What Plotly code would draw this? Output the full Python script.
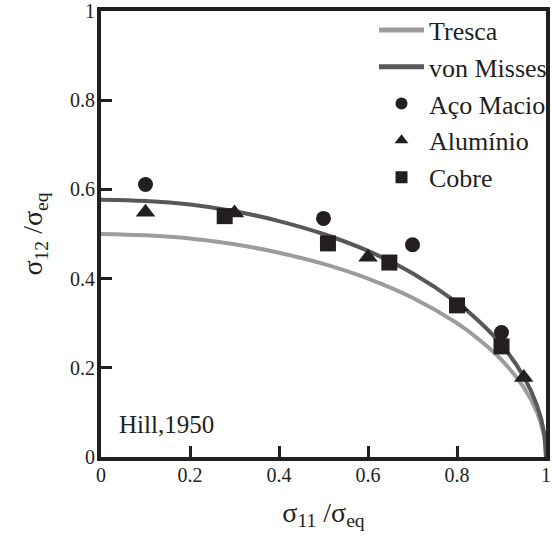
import plotly.graph_objects as go

# Criterion curves
curve_x = [0.0, 0.1, 0.2, 0.3, 0.4, 0.5, 0.6, 0.7, 0.8, 0.85, 0.9, 0.95, 0.98, 0.995, 1.0]
tresca_y = [0.500, 0.497, 0.490, 0.477, 0.458, 0.433, 0.400, 0.357, 0.300, 0.263, 0.218, 0.156, 0.100, 0.050, 0.0]
misses_y = [0.577, 0.574, 0.566, 0.551, 0.529, 0.500, 0.462, 0.412, 0.346, 0.304, 0.252, 0.180, 0.115, 0.058, 0.0]

# Experimental points
aco_x = [0.10, 0.50, 0.70, 0.90]
aco_y = [0.611, 0.535, 0.476, 0.279]
alu_x = [0.10, 0.30, 0.60, 0.805, 0.95]
alu_y = [0.549, 0.547, 0.448, 0.337, 0.178]
cob_x = [0.278, 0.51, 0.648, 0.80, 0.90]
cob_y = [0.540, 0.479, 0.436, 0.340, 0.248]

tick_vals = [0, 0.2, 0.4, 0.6, 0.8, 1]
tick_text = ["0", "0.2", "0.4", "0.6", "0.8", "1"]

INK = "#231f20"
FONT = "Liberation Serif"

fig = go.Figure()
fig.add_trace(go.Scatter(x=curve_x, y=tresca_y, mode="lines", name="Tresca",
                         line=dict(color="#9c9c9c", width=4, shape="spline")))
fig.add_trace(go.Scatter(x=curve_x, y=misses_y, mode="lines", name="von Misses",
                         line=dict(color="#58585a", width=4, shape="spline")))
fig.add_trace(go.Scatter(x=aco_x, y=aco_y, mode="markers", name="Aço Macio",
                         marker=dict(symbol="circle", size=15, color=INK)))
fig.add_trace(go.Scatter(x=alu_x, y=alu_y, mode="markers", name="Alumínio",
                         marker=dict(symbol="triangle-up", size=17, color=INK)))
fig.add_trace(go.Scatter(x=cob_x, y=cob_y, mode="markers", name="Cobre",
                         marker=dict(symbol="square", size=16, color=INK)))

axis_common = dict(
    range=[0, 1], tickvals=tick_vals, ticktext=tick_text,
    showgrid=False, zeroline=False, showline=True, linecolor=INK, linewidth=4,
    ticks="inside", ticklen=11, tickwidth=3, tickcolor=INK,
    tickfont=dict(family=FONT, size=20, color=INK), mirror=True,
    ticklabeloverflow="allow",
)

fig.update_xaxes(**axis_common, ticklabelstandoff=-3,
                 title=dict(text="σ<sub>11</sub> /σ<sub>eq</sub>",
                            font=dict(family=FONT, size=28, color=INK), standoff=18))
fig.update_yaxes(**axis_common, ticklabelstandoff=-2,
                 title=dict(text="σ<sub>12</sub> /σ<sub>eq</sub>",
                            font=dict(family=FONT, size=28, color=INK), standoff=20))

fig.add_annotation(x=0.035, y=0.074, xref="x", yref="y", text="Hill,1950",
                   showarrow=False, xanchor="left", yanchor="middle",
                   font=dict(family=FONT, size=25, color=INK))

fig.update_layout(
    width=552, height=538,
    margin=dict(l=101, r=0, t=6, b=81),
    paper_bgcolor="white", plot_bgcolor="white",
    showlegend=True,
    legend=dict(x=0.614, y=1.01, xanchor="left", yanchor="top",
                bgcolor="rgba(0,0,0,0)", borderwidth=0,
                font=dict(family=FONT, size=26, color=INK),
                tracegroupgap=0, itemsizing="constant", itemwidth=45),
)

fig.write_html("out.html")
